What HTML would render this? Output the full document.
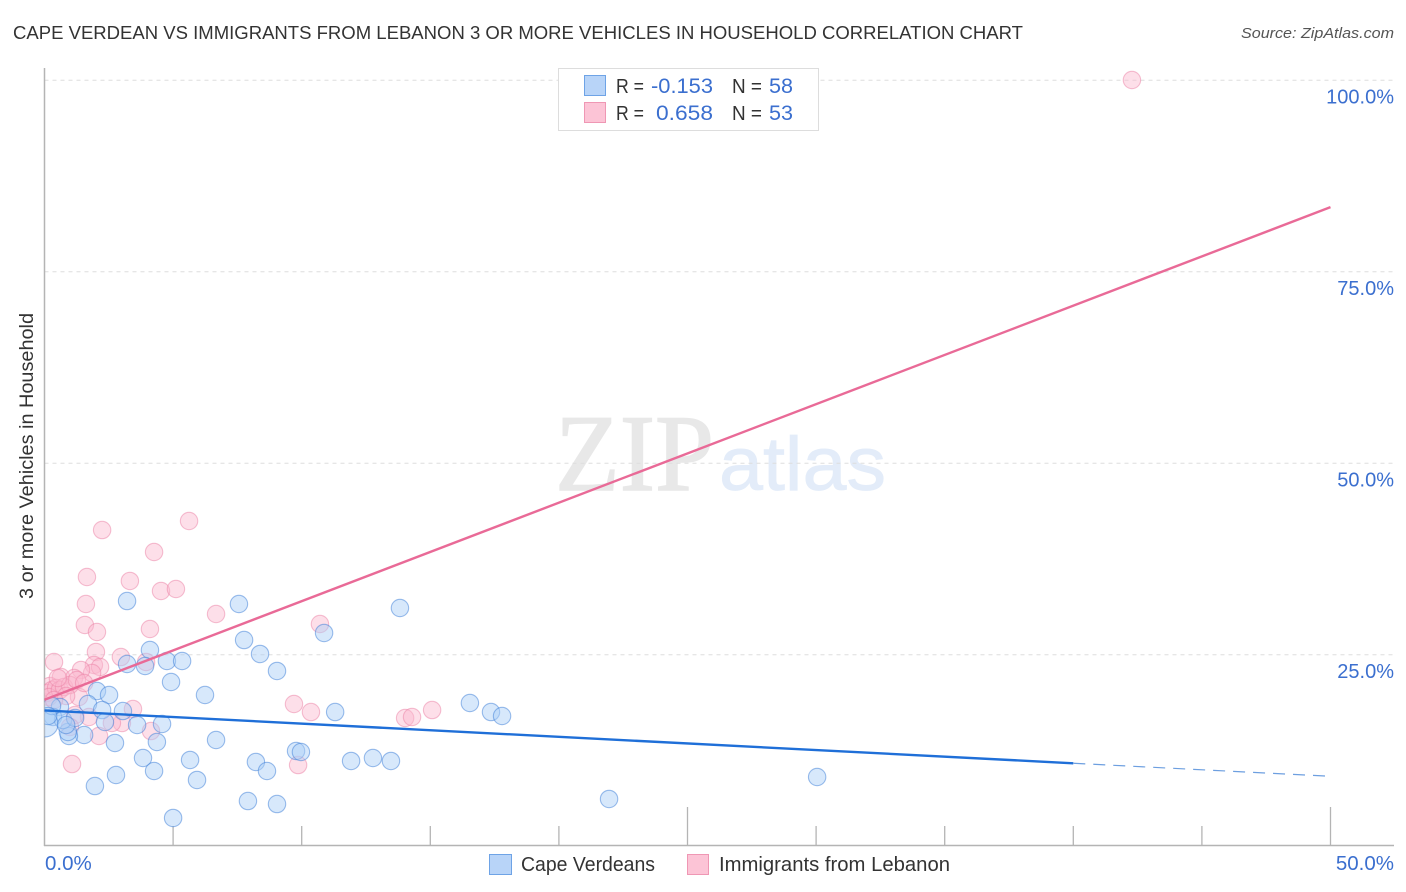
<!DOCTYPE html>
<html lang="en">
<head>
<meta charset="utf-8">
<title>Cape Verdean vs Immigrants from Lebanon correlation chart</title>
<style>
  html, body { margin: 0; padding: 0; background: #fff; }
  svg { display: block; font-family: "Liberation Sans", sans-serif; }
</style>
</head>
<body>
<svg id="chart" xmlns="http://www.w3.org/2000/svg" width="1406" height="892" viewBox="0 0 1406 892">
  <defs>
    <clipPath id="plot-clip"><rect x="44.5" y="60" width="1350" height="786"></rect></clipPath>
  </defs>
  <rect x="0" y="0" width="1406" height="892" fill="#ffffff"></rect>
  <text x="13" y="39" font-size="18.5" fill="#333333" textLength="1010" lengthAdjust="spacingAndGlyphs">CAPE VERDEAN VS IMMIGRANTS FROM LEBANON 3 OR MORE VEHICLES IN HOUSEHOLD CORRELATION CHART</text>
  <text x="1241" y="38" font-size="15" font-style="italic" fill="#555555" textLength="153" lengthAdjust="spacingAndGlyphs">Source: ZipAtlas.com</text>
  <g>
    <text x="555" y="490" font-family="'Liberation Serif', serif" font-size="109" fill="#e8e8e8" stroke="#e8e8e8" stroke-width="1.5" textLength="159" lengthAdjust="spacingAndGlyphs">ZIP</text>
    <text x="719" y="490" font-size="76" fill="#e3ecf9" stroke="#e3ecf9" stroke-width="0.8" textLength="167" lengthAdjust="spacingAndGlyphs">atlas</text>
  </g>
  <g id="grid"></g>
  <g id="axes"></g>
  <g id="points" clip-path="url(#plot-clip)"></g>
  <g id="trends"></g>
  <text transform="translate(33,599) rotate(-90)" x="0" y="0" font-size="19" fill="#333333" textLength="286" lengthAdjust="spacingAndGlyphs">3 or more Vehicles in Household</text>

  <g>
    <rect x="558.5" y="68.5" width="260" height="62" fill="#ffffff" stroke="#dddddd" stroke-width="1"></rect>
    <rect x="584.5" y="75.5" width="21" height="20" fill="#b8d4f8" stroke="#6ea3e6" stroke-width="1"></rect>
    <rect x="584.5" y="102.5" width="21" height="20" fill="#fcc4d6" stroke="#ef97b4" stroke-width="1"></rect>
    <text x="616" y="93" font-size="20" fill="#333333" textLength="28" lengthAdjust="spacingAndGlyphs">R =</text>
    <text x="651" y="93" font-size="21" fill="#3b6fcf" textLength="62" lengthAdjust="spacingAndGlyphs">-0.153</text>
    <text x="732" y="93" font-size="20" fill="#333333" textLength="30" lengthAdjust="spacingAndGlyphs">N =</text>
    <text x="769" y="93" font-size="21" fill="#3b6fcf" textLength="24" lengthAdjust="spacingAndGlyphs">58</text>
    <text x="616" y="120" font-size="20" fill="#333333" textLength="28" lengthAdjust="spacingAndGlyphs">R =</text>
    <text x="656" y="120" font-size="21" fill="#3b6fcf" textLength="57" lengthAdjust="spacingAndGlyphs">0.658</text>
    <text x="732" y="120" font-size="20" fill="#333333" textLength="30" lengthAdjust="spacingAndGlyphs">N =</text>
    <text x="769" y="120" font-size="21" fill="#3b6fcf" textLength="24" lengthAdjust="spacingAndGlyphs">53</text>
  </g>

  <g>
    <rect x="489.5" y="854.5" width="22" height="20" fill="#b8d4f8" stroke="#6ea3e6" stroke-width="1"></rect>
    <text x="521" y="871" font-size="20" fill="#333333" textLength="134" lengthAdjust="spacingAndGlyphs">Cape Verdeans</text>
    <rect x="687.5" y="854.5" width="21" height="20" fill="#fcc4d6" stroke="#ef97b4" stroke-width="1"></rect>
    <text x="719" y="871" font-size="20" fill="#333333" textLength="231" lengthAdjust="spacingAndGlyphs">Immigrants from Lebanon</text>
  </g>
</svg>
<script>
// Chart data: percentages.
const capeX = [3.21,7.56,7.76,8.38,9.04,4.10,3.21,3.91,4.76,5.35,4.92,6.24,2.04,2.51,1.69,2.24,3.05,3.60,4.57,2.74,1.54,0.95,0.91,0.60,0.33,0.72,1.19,0.02,2.35,4.37,6.67,3.83,5.66,8.22,8.65,9.78,9.97,2.78,4.26,5.93,1.96,7.91,9.04,5.00,11.30,11.92,12.77,13.47,13.82,10.87,16.54,17.36,17.79,21.95,30.04,0.29,0.14,0.84];
const capeY = [31.98,31.59,26.89,25.07,22.85,25.59,23.76,23.50,24.15,24.15,21.41,19.71,20.23,19.71,18.54,17.75,17.62,15.80,15.93,13.45,14.49,14.36,14.88,18.15,16.84,16.45,16.71,15.93,16.19,13.58,13.84,11.49,11.23,10.97,9.79,12.40,12.27,9.27,9.79,8.62,7.83,5.87,5.48,3.66,17.49,11.10,11.49,11.10,31.07,27.81,18.67,17.49,16.97,6.14,9.01,18.28,16.97,15.80];
const lebanonX = [42.28,5.62,2.24,4.26,1.65,3.32,4.53,5.11,1.61,6.67,1.57,2.04,4.10,10.71,0.37,2.97,3.95,2.00,1.92,2.16,1.85,1.42,0.64,1.15,1.34,9.70,10.36,14.02,14.29,15.07,3.44,4.14,3.01,2.62,2.12,1.07,9.86,1.73,1.19,0.99,0.21,0.10,0.29,0.45,0.17,0.60,0.76,0.99,1.26,1.54,0.84,0.37,0.52];
const lebanonY = [100.00,42.43,41.25,38.38,35.12,34.60,33.29,33.55,31.59,30.29,28.85,27.94,28.33,28.98,24.02,24.67,24.02,25.33,23.63,23.37,22.58,22.98,22.06,21.93,19.45,18.54,17.49,16.71,16.84,17.75,17.88,15.01,16.06,16.06,14.36,10.70,10.57,16.84,17.10,15.54,20.89,19.97,20.37,20.63,19.45,20.37,20.76,21.02,21.67,21.28,19.58,19.06,21.93];
const capeTrendX = [0, 40, 50];
const capeTrendY = [17.7, 10.8, 9.1];
const lebanonTrendX = [0, 50];
const lebanonTrendY = [19.1, 83.4];
const yTicks = [25, 50, 75, 100];
const yTickLabels = ['25.0%', '50.0%', '75.0%', '100.0%'];
const xTicks = [5, 10, 15, 20, 25, 30, 35, 40, 45, 50];
const xEndLabels = ['0.0%', '50.0%'];
const xEndValues = [0, 50];
const largeCapeIndex = 27;

const NS = 'http://www.w3.org/2000/svg';
const xScale = v => 44.5 + v * 25.72;
const yScale = v => 846 - v * 7.66;
function make(tag, parent, attrs) {
  const el = document.createElementNS(NS, tag);
  for (const k in attrs) el.setAttribute(k, attrs[k]);
  parent.appendChild(el);
  return el;
}
const grid = document.getElementById('grid');
const axes = document.getElementById('axes');
const points = document.getElementById('points');
const trends = document.getElementById('trends');

yTicks.forEach((t, i) => {
  const line = make('line', grid, {x1: 44.5, x2: 1394, y1: yScale(t) + 0.2, y2: yScale(t) + 0.2, stroke: '#dddddd', 'stroke-width': 1, 'stroke-dasharray': '4 4'});
  
  
  const label = make('text', axes, {x: 1394, y: yScale(t) + 23.5, 'text-anchor': 'end', 'font-size': 20, fill: '#3b6fcf'});
  
  
  label.textContent = yTickLabels[i];
});

const yAxis = make('line', axes, {x1: 44.5, x2: 44.5, y1: 68, y2: 846, stroke: '#b4b4b4', 'stroke-width': 1.5});


const xAxis = make('line', axes, {x1: 44, x2: 1394, y1: 845.5, y2: 845.5, stroke: '#b4b4b4', 'stroke-width': 1.5});



xTicks.forEach(t => {
  const major = t % 25 === 0;
  const tick = make('line', axes, {x1: xScale(t), x2: xScale(t), y1: major ? 807 : 826, y2: 845.5, stroke: '#b4b4b4', 'stroke-width': 1.3});
  
  
});

xEndValues.forEach((v, i) => {
  const label = make('text', axes, {x: i === 0 ? xScale(v) + 0.5 : 1394, y: 870, 'text-anchor': i === 0 ? 'start' : 'end', 'font-size': 20.5, fill: '#3b6fcf'});
  
  
  label.textContent = xEndLabels[i];
});

lebanonX.forEach((v, i) => {
  const c = make('circle', points, {cx: xScale(v), cy: yScale(lebanonY[i]), r: 8.7, fill: 'rgba(251,185,206,0.45)', stroke: 'rgba(236,130,165,0.5)', 'stroke-width': 1.1});
  
  
});
capeX.forEach((v, i) => {
  const c = make('circle', points, {cx: xScale(v), cy: yScale(capeY[i]), r: i === largeCapeIndex ? 13 : 8.7, fill: 'rgba(172,206,246,0.48)', stroke: 'rgba(60,125,215,0.5)', 'stroke-width': 1.1});
  
  
});

const pinkLine = make('line', trends, {x1: xScale(lebanonTrendX[0]), y1: yScale(lebanonTrendY[0]), x2: xScale(lebanonTrendX[1]), y2: yScale(lebanonTrendY[1]), stroke: '#e96a97', 'stroke-width': 2.4});


const blueLine = make('line', trends, {x1: xScale(capeTrendX[0]), y1: yScale(capeTrendY[0]), x2: xScale(capeTrendX[1]), y2: yScale(capeTrendY[1]), stroke: '#1f6fd8', 'stroke-width': 2.4});


const blueDash = make('line', trends, {x1: xScale(capeTrendX[1]), y1: yScale(capeTrendY[1]), x2: xScale(capeTrendX[2]), y2: yScale(capeTrendY[2]), stroke: '#6d9fe0', 'stroke-width': 1.2, 'stroke-dasharray': '12 8'});


</script>
</body>
</html>
